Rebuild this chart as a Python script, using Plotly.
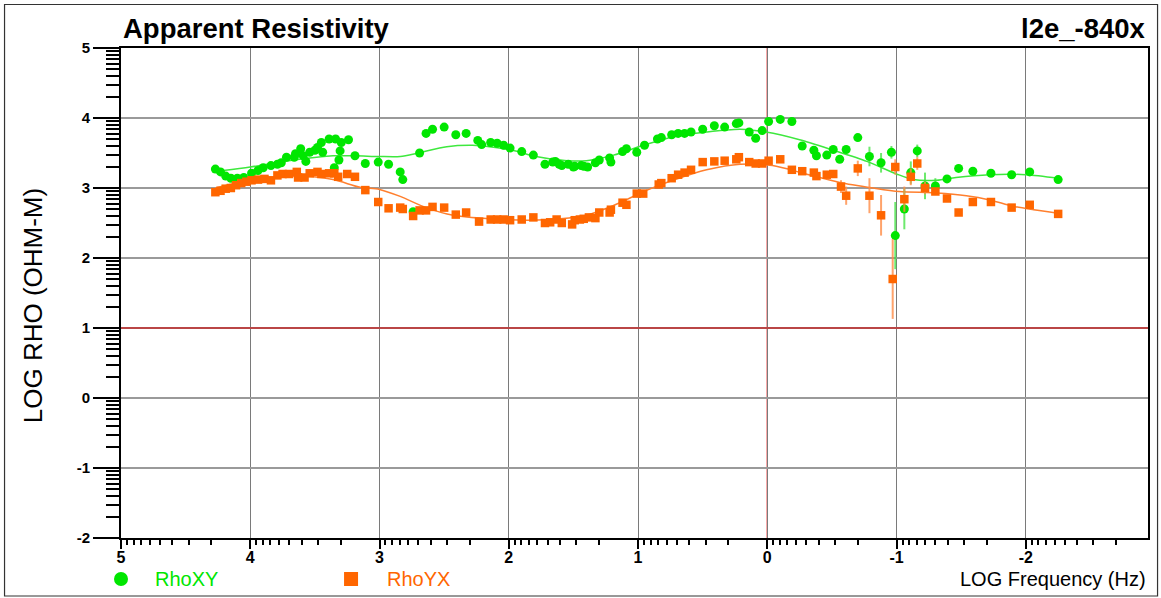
import numpy as np
import plotly.graph_objects as go

# ---- RhoXY apparent resistivity (log10 frequency in Hz, log10 rho in ohm-m) ----
xy_freq = [4.27, 4.23, 4.19, 4.15, 4.10, 4.05, 3.99, 3.94, 3.90, 3.84,
           3.79, 3.76, 3.72, 3.66, 3.65, 3.61, 3.59, 3.57, 3.54, 3.50,
           3.48, 3.45, 3.44, 3.39, 3.35, 3.34, 3.314, 3.305, 3.296, 3.24,
           3.19, 3.11, 3.01, 2.93, 2.84, 2.82, 2.74, 2.69, 2.64, 2.59,
           2.50, 2.41, 2.33, 2.24, 2.21, 2.14, 2.09, 2.04, 1.99, 1.90,
           1.81, 1.72, 1.66, 1.64, 1.61, 1.59, 1.54, 1.50, 1.49, 1.44,
           1.42, 1.39, 1.33, 1.30, 1.22, 1.21, 1.12, 1.09, 1.01, 0.95,
           0.85, 0.82, 0.74, 0.69, 0.64, 0.59, 0.50, 0.41, 0.33, 0.24,
           0.22, 0.14, 0.09, 0.04, -0.01, -0.10, -0.19, -0.27, -0.36, -0.38,
           -0.46, -0.51, -0.56, -0.61, -0.70, -0.79, -0.88, -0.96, -0.99, -1.06,
           -1.11, -1.16, -1.22, -1.30, -1.39, -1.48, -1.59, -1.73, -1.89, -2.03, -2.25]
xy_rho = [3.27, 3.23, 3.17, 3.14, 3.14, 3.15, 3.21, 3.25, 3.29, 3.32,
          3.34, 3.36, 3.44, 3.44, 3.49, 3.56, 3.46, 3.38, 3.51, 3.54,
          3.58, 3.65, 3.51, 3.70, 3.29, 3.70, 3.40, 3.53, 3.65, 3.69,
          3.46, 3.35, 3.37, 3.34, 3.23, 3.12, 2.66, 3.50, 3.78, 3.84,
          3.87, 3.76, 3.78, 3.68, 3.62, 3.65, 3.64, 3.61, 3.57, 3.52,
          3.47, 3.34, 3.37, 3.38, 3.34, 3.32, 3.34, 3.30, 3.31, 3.32,
          3.31, 3.30, 3.36, 3.40, 3.43, 3.37, 3.52, 3.56, 3.51, 3.61,
          3.70, 3.72, 3.76, 3.78, 3.78, 3.80, 3.84, 3.89, 3.87, 3.92,
          3.93, 3.80, 3.71, 3.82, 3.95, 3.98, 3.95, 3.60, 3.54, 3.46,
          3.47, 3.55, 3.41, 3.55, 3.72, 3.45, 3.36, 3.51, 2.32, 2.70,
          3.22, 3.53, 3.03, 3.03, 3.13, 3.28, 3.24, 3.21, 3.19, 3.23, 3.12]
xy_err = [0] * 92 + [0.05, 0, 0, 0.14, 0.14, 0.09, 0.48, 0.29,
                     0.16, 0.09, 0.19, 0.11, 0.04, 0, 0, 0, 0, 0, 0]

# ---- RhoYX apparent resistivity ----
yx_freq = [4.27, 4.23, 4.19, 4.15, 4.11, 4.07, 4.03, 3.99, 3.94, 3.89,
           3.84, 3.79, 3.75, 3.70, 3.64, 3.63, 3.58, 3.54, 3.48, 3.45,
           3.39, 3.35, 3.32, 3.25, 3.19, 3.11, 3.01, 2.93, 2.84, 2.82,
           2.74, 2.69, 2.64, 2.59, 2.50, 2.41, 2.33, 2.23, 2.14, 2.09,
           2.04, 1.99, 1.90, 1.81, 1.72, 1.68, 1.63, 1.59, 1.51, 1.49,
           1.45, 1.42, 1.38, 1.33, 1.30, 1.22, 1.21, 1.12, 1.09, 1.01,
           0.96, 0.84, 0.82, 0.74, 0.69, 0.64, 0.59, 0.50, 0.41, 0.33,
           0.24, 0.22, 0.14, 0.09, 0.04, -0.01, -0.10, -0.19, -0.27, -0.36,
           -0.38, -0.46, -0.51, -0.57, -0.61, -0.70, -0.79, -0.88, -0.97, -0.99,
           -1.06, -1.11, -1.16, -1.22, -1.30, -1.39, -1.48, -1.59, -1.73, -1.89,
           -2.03, -2.25]
yx_rho = [2.94, 2.96, 2.99, 3.00, 3.04, 3.07, 3.09, 3.11, 3.12, 3.13,
          3.11, 3.18, 3.20, 3.20, 3.23, 3.15, 3.15, 3.21, 3.23, 3.20,
          3.21, 3.21, 3.16, 3.20, 3.16, 2.97, 2.80, 2.71, 2.72, 2.70,
          2.60, 2.68, 2.68, 2.73, 2.72, 2.62, 2.65, 2.52, 2.55, 2.55,
          2.55, 2.54, 2.55, 2.58, 2.50, 2.51, 2.55, 2.50, 2.48, 2.54,
          2.55, 2.56, 2.58, 2.57, 2.65, 2.65, 2.69, 2.79, 2.76, 2.92,
          2.92, 3.05, 3.07, 3.14, 3.19, 3.22, 3.26, 3.37, 3.38, 3.39,
          3.41, 3.44, 3.37, 3.35, 3.35, 3.39, 3.41, 3.26, 3.24, 3.22,
          3.17, 3.19, 3.20, 3.02, 2.89, 3.28, 2.89, 2.61, 1.70, 3.30,
          2.84, 3.16, 3.35, 3.00, 2.95, 2.85, 2.65, 2.80, 2.80, 2.72,
          2.76, 2.63]
yx_err = [0] * 83 + [0.09, 0.13, 0.11, 0.25, 0.29, 0.57, 0.11,
                     0.18, 0.12, 0.09, 0.09, 0, 0, 0, 0, 0, 0, 0, 0]

# ---- smooth model responses ----
xy_model_freq = [4.21, 4.00, 3.62, 3.36, 3.19, 3.00, 2.84, 2.70, 2.48, 2.28,
                 2.15, 1.97, 1.79, 1.55, 1.40, 1.19, 0.96, 0.73, 0.47, 0.21,
                 0.01, -0.25, -0.51, -0.77, -1.00, -1.13, -1.31, -1.46, -1.72,
                 -2.00, -2.25]
xy_model_rho = [3.25, 3.30, 3.41, 3.46, 3.46, 3.45, 3.45, 3.50, 3.59, 3.61,
                3.59, 3.54, 3.45, 3.39, 3.39, 3.47, 3.61, 3.73, 3.80, 3.84,
                3.80, 3.69, 3.54, 3.38, 3.20, 3.12, 3.11, 3.15, 3.19,
                3.19, 3.14]
yx_model_freq = [4.27, 4.00, 3.62, 3.36, 3.15, 3.00, 2.84, 2.64, 2.43, 2.15,
                 1.84, 1.60, 1.40, 1.19, 0.93, 0.73, 0.47, 0.21, -0.04, -0.30,
                 -0.56, -0.82, -1.02, -1.31, -1.54, -1.72, -1.90, -2.06, -2.25]
yx_model_rho = [3.00, 3.11, 3.17, 3.12, 3.01, 2.98, 2.88, 2.72, 2.61, 2.56,
                2.54, 2.56, 2.61, 2.75, 2.97, 3.11, 3.26, 3.34, 3.32, 3.20,
                3.08, 3.00, 2.95, 2.93, 2.89, 2.83, 2.74, 2.69, 2.64]

x_major = [5, 4, 3, 2, 1, 0, -1, -2]
x_labels = ["5", "4", "3", "2", "1", "0", "-1", "-2"]
y_major = [5, 4, 3, 2, 1, 0, -1, -2]
y_labels = ["5", "4", "3", "2", "1", "0", "-1", "-2"]

GREEN = "#00e600"
ORANGE = "#ff6600"
FONT = "Liberation Sans, Arial, sans-serif"

# log-cycle minor ticks inside each decade
def decade_ticks(lo, hi):
    vals = []
    for n in range(int(np.floor(lo)) - 1, int(np.ceil(hi)) + 1):
        for k in range(2, 10):
            v = n + np.log10(k)
            if lo < v < hi:
                vals.append(round(float(v), 4))
    return vals

x_lo, x_hi = -2.945, 5.0
y_lo, y_hi = -2.0, 5.0

fig = go.Figure()

fig.add_trace(go.Scatter(x=xy_model_freq, y=xy_model_rho, mode="lines",
                         line=dict(color="#3ee83e", width=1.5, shape="spline", smoothing=0.8),
                         hoverinfo="skip"))
fig.add_trace(go.Scatter(x=yx_model_freq, y=yx_model_rho, mode="lines",
                         line=dict(color="#ff7f2e", width=1.5, shape="spline", smoothing=0.8),
                         hoverinfo="skip"))

fig.add_trace(go.Scatter(
    x=xy_freq, y=xy_rho, mode="markers", name="RhoXY",
    marker=dict(symbol="circle", size=9, color=GREEN, line=dict(width=0)),
    error_y=dict(type="data", array=xy_err, visible=True, color="rgba(60,225,60,0.75)",
                 thickness=2, width=0)))
fig.add_trace(go.Scatter(
    x=yx_freq, y=yx_rho, mode="markers", name="RhoYX",
    marker=dict(symbol="square", size=8.5, color=ORANGE, line=dict(width=0)),
    error_y=dict(type="data", array=yx_err, visible=True, color="rgba(255,140,70,0.8)",
                 thickness=2, width=0)))

fig.update_layout(
    width=1161, height=598,
    margin=dict(l=121, r=13, t=48, b=60),
    paper_bgcolor="white", plot_bgcolor="white",
    showlegend=False,
    font=dict(family=FONT, color="black"),
    xaxis=dict(
        range=[x_hi, x_lo], tickmode="array", tickvals=x_major, ticktext=x_labels,
        ticks="outside", ticklen=9, tickwidth=2, tickcolor="black",
        showline=True, linecolor="black", linewidth=2, mirror=True,
        showgrid=True, gridcolor="#7a7a7a", gridwidth=1.3, zeroline=False,
        tickfont=dict(family=FONT, size=16, color="black", weight="bold"),
        ticklabelstandoff=-5,
        minor=dict(tickmode="array", tickvals=decade_ticks(x_lo, x_hi),
                   ticks="outside", ticklen=5, tickwidth=1.5, tickcolor="black",
                   showgrid=False),
    ),
    yaxis=dict(
        range=[y_lo, y_hi], tickmode="array", tickvals=y_major, ticktext=y_labels,
        ticks="outside", ticklen=26, tickwidth=2, tickcolor="black",
        showline=True, linecolor="black", linewidth=2, mirror=True,
        showgrid=True, gridcolor="#9a9a9a", gridwidth=1.6, zeroline=False,
        tickfont=dict(family=FONT, size=15, color="black", weight="bold"),
        minor=dict(tickmode="array", tickvals=decade_ticks(y_lo, y_hi),
                   ticks="outside", ticklen=13, tickwidth=1.5, tickcolor="black",
                   showgrid=False),
    ),
)

# reference lines at log f = 0 and log rho = 1
fig.add_shape(type="line", xref="x", yref="paper", x0=0, x1=0, y0=0, y1=1,
              line=dict(color="#f00000", width=1.3), layer="between")
fig.add_shape(type="line", xref="paper", yref="y", x0=0, x1=1, y0=1, y1=1,
              line=dict(color="#c42a2a", width=1.5), layer="above")

# outer frame around the whole figure
fig.add_shape(type="rect", xref="paper", yref="paper",
              x0=-0.1134, x1=1.0093, y0=-0.1184, y1=1.0888,
              line=dict(color="#333333", width=1.2), layer="above")

# legend swatches
leg_y = -0.0837
fig.add_shape(type="circle", xref="paper", yref="paper", xsizemode="pixel", ysizemode="pixel",
              xanchor=0.0, yanchor=leg_y, x0=-7, x1=7, y0=-7, y1=7,
              fillcolor=GREEN, line=dict(width=0))
fig.add_shape(type="rect", xref="paper", yref="paper", xsizemode="pixel", ysizemode="pixel",
              xanchor=0.224, yanchor=leg_y, x0=-7, x1=7, y0=-7, y1=7,
              fillcolor=ORANGE, line=dict(width=0))

ann = [
    dict(text="RhoXY", x=0.0312, y=leg_y, xanchor="left", yanchor="middle",
         font=dict(family=FONT, size=20, color=GREEN)),
    dict(text="RhoYX", x=0.257, y=leg_y, xanchor="left", yanchor="middle",
         font=dict(family=FONT, size=20, color=ORANGE)),
    dict(text="LOG Frequency (Hz)", x=1.0, y=leg_y, xanchor="right", yanchor="middle",
         font=dict(family=FONT, size=20, color="black")),
    dict(text="LOG RHO (OHM-M)", x=-0.0857, y=0.475, xanchor="center", yanchor="middle",
         textangle=-90, font=dict(family=FONT, size=26, color="black")),
    dict(text="Apparent Resistivity", x=0.0, y=1.0408, xanchor="left", yanchor="middle",
         font=dict(family=FONT, size=27.5, color="black", weight="bold")),
    dict(text="l2e_-840x", x=1.0, y=1.0408, xanchor="right", yanchor="middle",
         font=dict(family=FONT, size=27.5, color="black", weight="bold")),
]
for a in ann:
    fig.add_annotation(xref="paper", yref="paper", showarrow=False, **a)

fig.write_html("out.html")
